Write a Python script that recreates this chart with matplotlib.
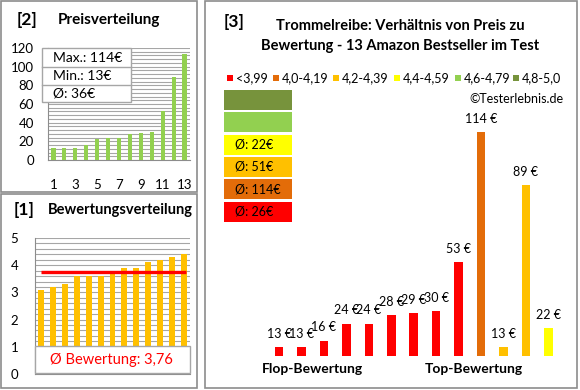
import matplotlib
matplotlib.use("Agg")
import matplotlib.pyplot as plt
from matplotlib.patches import Rectangle
import numpy as np

plt.rcParams['font.family'] = ['Lato', 'DejaVu Sans']

# data
prices_sorted = [13, 13, 13, 16, 22, 24, 24, 28, 29, 30, 53, 89, 114]
ratings_sorted = [3.1, 3.2, 3.3, 3.6, 3.6, 3.6, 3.7, 3.9, 3.9, 4.1, 4.2, 4.3, 4.4]
rating_mean = 3.76
price_labels = ["Max.: 114€", "Min.: 13€", "Ø: 36€"]

# price per product, ordered by rating (flop -> top)
prices_by_rating = [13, 13, 16, 24, 24, 28, 29, 30, 53, 114, 13, 89, 22]
ratings_by_rating = [3.1, 3.2, 3.3, 3.6, 3.6, 3.6, 3.7, 3.9, 3.9, 4.1, 4.2, 4.3, 4.4]

classes = ["<3,99", "4,0-4,19", "4,2-4,39", "4,4-4,59", "4,6-4,79", "4,8-5,0"]
class_colors = ["#FF0000", "#E36C09", "#FFC000", "#FFFF00", "#92D050", "#77933C"]
class_avgs = ["Ø: 26€", "Ø: 114€", "Ø: 51€", "Ø: 22€", "", ""]

W, H = 580, 390
fig = plt.figure(figsize=(W / 100, H / 100), dpi=100)

def fx(x):
    return x / W

def fy(y):
    return 1 - y / H

def add_ax(x0, y0, x1, y1):
    # pixel box (top-left origin) -> axes
    return fig.add_axes([fx(x0), fy(y1), (x1 - x0) / W, (y1 - y0) / H])

def box(x0, y0, x1, y1, fc="none", ec="#8C8C8C", lw=1.2, z=1):
    fig.add_artist(Rectangle((fx(x0), fy(y1)), (x1 - x0) / W, (y1 - y0) / H,
                             facecolor=fc, edgecolor=ec, linewidth=lw, zorder=z,
                             transform=fig.transFigure))

def class_of(r):
    if r < 4.0:
        return 0
    if r < 4.2:
        return 1
    if r < 4.4:
        return 2
    if r < 4.6:
        return 3
    if r < 4.8:
        return 4
    return 5

# panel frames
box(1, 1, 197, 192)
box(1, 194, 197, 388)
box(205, 1, 577, 388)

x = np.arange(1, 14)

# [2] Preisverteilung
fig.text(fx(17), fy(20), "[2]", fontsize=12.5, fontweight="bold", va="center")
fig.text(fx(58), fy(20), "Preisverteilung", fontsize=11, fontweight="bold", va="center")
ax1 = add_ax(48, 48, 190, 160)
ax1.bar(x, prices_sorted, width=0.38, color="#92D050", zorder=3)
ax1.set_xlim(0.5, 13.5)
ax1.set_ylim(0, 120)
ax1.set_yticks(np.arange(0, 121, 20))
ax1.set_yticks(np.arange(0, 121, 4), minor=True)
ax1.set_xticks(np.arange(1, 14, 2))
ax1.grid(True, axis="y", which="both", color="#A6A6A6", linewidth=0.8, zorder=0)
ax1.tick_params(axis="both", which="both", length=0, labelsize=9.5)
ax1.tick_params(axis="y", pad=10)
ax1.tick_params(axis="x", pad=14)
for s in ["top", "right"]:
    ax1.spines[s].set_visible(False)
for s in ["left", "bottom"]:
    ax1.spines[s].set_color("#8C8C8C")

box(42, 48, 131, 102, fc="white", ec="#A6A6A6", lw=1.0, z=5)
for yy in [67, 85]:
    fig.add_artist(plt.Line2D([fx(42), fx(131)], [fy(yy), fy(yy)], color="#A6A6A6",
                              linewidth=1.0, zorder=6, transform=fig.transFigure))
for i, t in enumerate(price_labels):
    fig.text(fx(53), fy(58 + 18 * i), t, fontsize=10, va="center", zorder=7)

# [1] Bewertungsverteilung
fig.text(fx(14), fy(210), "[1]", fontsize=12.5, fontweight="bold", va="center")
fig.text(fx(48), fy(210), "Bewertungsverteilung", fontsize=10.5, fontweight="bold", va="center")
ax2 = add_ax(35, 238, 190, 374)
ax2.bar(x, ratings_sorted, width=0.5, color="#FFC000", zorder=3)
ax2.hlines(rating_mean, 1.0, 13.15, color="#FF0000", linewidth=2.4, zorder=4)
ax2.set_xlim(0.5, 13.5)
ax2.set_ylim(0, 5)
ax2.set_yticks(np.arange(0, 6, 1))
ax2.set_yticks(np.arange(0, 5.01, 0.2), minor=True)
ax2.set_xticks([])
ax2.grid(True, axis="y", which="both", color="#A6A6A6", linewidth=0.8, zorder=0)
ax2.tick_params(axis="both", which="both", length=0, labelsize=9.5)
ax2.tick_params(axis="y", pad=12)
for s in ["top", "right"]:
    ax2.spines[s].set_visible(False)
for s in ["left", "bottom"]:
    ax2.spines[s].set_color("#8C8C8C")
box(35, 346, 190, 373, fc="white", ec="#A6A6A6", lw=1.0, z=5)
fig.text(fx(111), fy(360), "Ø Bewertung: 3,76", fontsize=10.5, color="#FF0000",
         ha="center", va="center", zorder=7)

# [3] Preis vs Bewertung
fig.text(fx(224), fy(22), "[3]", fontsize=12.5, fontweight="bold", va="center")
fig.text(fx(400), fy(26), "Trommelreibe: Verhältnis von Preis zu", fontsize=10.5,
         fontweight="bold", ha="center", va="center")
fig.text(fx(400), fy(46), "Bewertung - 13 Amazon Bestseller im Test", fontsize=10.5,
         fontweight="bold", ha="center", va="center")

sq_x = [227, 273, 333, 394, 455, 513]
for sx, lab, c in zip(sq_x, classes, class_colors):
    box(sx, 75, sx + 6, 81, fc=c, ec="none", lw=0)
    fig.text(fx(sx + 9), fy(78), lab, fontsize=9, va="center")

fig.text(fx(563), fy(99), "©Testerlebnis.de", fontsize=9, ha="right", va="center")

# class average boxes (top: best class)
for i, k in enumerate(range(5, -1, -1)):
    y0 = 90 + i * 22.3
    box(224, y0, 292, y0 + 20, fc=class_colors[k], ec="none", lw=0)
    if class_avgs[k]:
        fig.text(fx(235), fy(y0 + 10), class_avgs[k], fontsize=9, va="center")

ax3 = add_ax(267.8, 76.7, 559.6, 356)
bar_colors = [class_colors[class_of(r)] for r in ratings_by_rating]
ax3.bar(x, prices_by_rating, width=0.38, color=bar_colors, bottom=0)
ax3.set_xlim(0.5, 13.5)
ax3.set_ylim(8.8, 140)
for xi, p in zip(x, prices_by_rating):
    ax3.annotate(f"{p} €", (xi, p), xytext=(0, 9.5), textcoords="offset points",
                 ha="center", va="center", fontsize=9)
ax3.axis("off")

fig.text(fx(312), fy(369), "Flop-Bewertung", fontsize=10, fontweight="bold",
         ha="center", va="center")
fig.text(fx(474), fy(369), "Top-Bewertung", fontsize=10, fontweight="bold",
         ha="center", va="center")

fig.savefig("out.png", dpi=100, facecolor="white")
